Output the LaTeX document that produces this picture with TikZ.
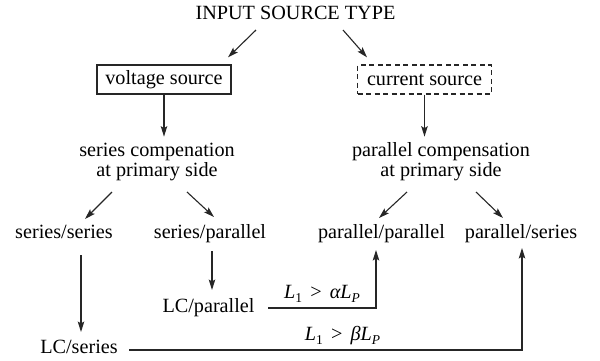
\documentclass[tikz,border=0pt]{standalone}
\usepackage{fontspec}
\setmainfont{Liberation Serif}
\usetikzlibrary{arrows.meta,calc}
% lowered small index for the inductance labels
\newcommand{\lsub}[1]{\raisebox{-0.22em}{\fontsize{13.5}{13.5}\selectfont #1}}
\begin{document}
\begin{tikzpicture}[x=1pt,y=1pt,
  lbl/.style={font=\fontsize{20.2}{18}\selectfont, inner sep=0pt, anchor=base, text=black},
  twoline/.style={lbl, align=center},
  srcbox/.style={font=\fontsize{20.2}{18}\selectfont, draw=black!85, line width=1.3pt,
    minimum width=134pt, minimum height=29pt, inner sep=0pt},
  arr/.style={draw=black!85, line width=1.1pt, -{Stealth[length=10.5pt,width=6.5pt,inset=2pt]}},
  cond/.style={font=\fontsize{20.2}{18}\selectfont\itshape, inner sep=0pt, anchor=base}]
\useasboundingbox (0,0) rectangle (600,-360);

% nodes (the base of a two-line node is its last line)
\node[lbl] (title) at (295.5,-19) {INPUT SOURCE TYPE};
\node[srcbox] (vs) at (164,-79.5) {voltage source};
\node[srcbox, dash pattern=on 5pt off 3.5pt] (cs) at (424.5,-79.5) {current source};
\node[twoline] (sc) at (157,-176) {series compenation\\at primary side};
\node[twoline] (pc) at (441,-176) {parallel compensation\\at primary side};
\node[lbl] (ss) at (64,-238) {series/series};
\node[lbl] (sp) at (210,-238) {series/parallel};
\node[lbl] (pp) at (381.5,-238) {parallel/parallel};
\node[lbl] (ps) at (521,-238) {parallel/series};
\node[lbl] (lcp) at (208.5,-312) {LC/parallel};
\node[lbl] (lcs) at (79,-353) {LC/series};

% connectors
\draw[arr] ($(title.base)+(-39.5,-11)$) -- ($(vs.north)+(64,7)$);
\draw[arr] ($(title.base)+(47.5,-11)$) -- ($(cs.north)+(-57.5,7)$);
\draw[arr] (vs.south) -- ($(vs.south)+(0,-42)$);
\draw[arr] (cs.south) -- ($(cs.south)+(0,-42)$);
\draw[arr] ($(sc.base)+(-45,-16)$) -- ($(ss.base)+(21,19)$);
\draw[arr] ($(sc.base)+(30,-16)$) -- ($(sp.base)+(4,21)$);
\draw[arr] ($(pc.base)+(-34,-16)$) -- ($(pp.base)+(-2.5,20)$);
\draw[arr] ($(pc.base)+(35,-16)$) -- ($(ps.base)+(-18,20)$);
\draw[arr] ($(ss.base)+(17,-17)$) -- ($(lcs.base)+(2,21)$);
\draw[arr] ($(sp.base)+(2,-13)$) -- ($(lcp.base)+(3.5,22)$);
\draw[arr] ($(lcp.base)+(59.5,4)$) -| node[cond, pos=0.25, yshift=10pt] (ca)
  {L\lsub{\upshape 1}\hspace{0.35em}>\hspace{0.35em}αL\lsub{P}} ($(pp.base)+(-5.5,-12)$);
\draw[arr] ($(lcs.base)+(50,3)$) -| node[cond, pos=0.2716, yshift=10pt] (cb)
  {L\lsub{\upshape 1}\hspace{0.35em}>\hspace{0.35em}βL\lsub{P}} ($(ps.base)+(1,-10)$);
\end{tikzpicture}
\end{document}
